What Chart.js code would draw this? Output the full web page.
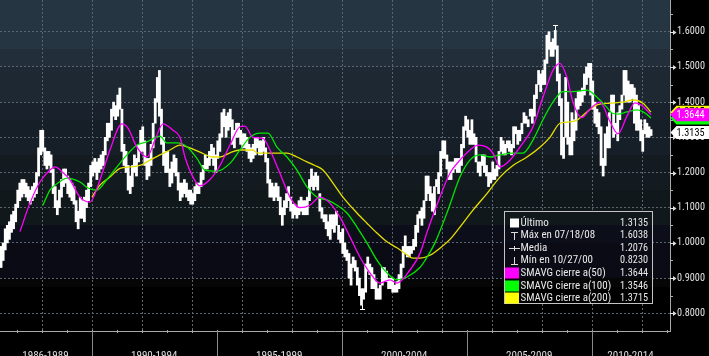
<!DOCTYPE html>
<html><head><meta charset="utf-8">
<script src="https://cdn.jsdelivr.net/npm/chart.js@4.4.0/dist/chart.umd.min.js"></script>
<style>html,body{margin:0;padding:0;background:#000;overflow:hidden}</style>
</head><body>
<canvas id="c" width="709" height="356"></canvas>
<script>
// ---------- DATA ----------
// Monthly bars of "Último" (low / high), first bar = May 1986, one per month up to May 2012
const firstMonth = 1986 + 4.5 / 12;
const monthLow = [
 0.93,0.95,0.98,1.00,1.01,1.03,1.04,1.06,
 1.10,1.12,1.13,1.14,1.13,1.12,1.11,1.12,1.13,1.14,1.19,1.25,
 1.26,1.22,1.21,1.22,1.20,1.14,1.10,1.08,1.10,1.13,1.16,1.17,
 1.14,1.13,1.12,1.11,1.06,1.04,1.07,1.07,1.06,1.10,1.12,1.16,
 1.19,1.20,1.18,1.20,1.21,1.22,1.25,1.29,1.30,1.32,1.36,1.35,
 1.36,1.38,1.26,1.22,1.20,1.15,1.14,1.16,1.20,1.19,1.23,1.26,
 1.26,1.22,1.18,1.19,1.22,1.27,1.34,1.40,1.36,1.28,1.22,1.20,
 1.20,1.16,1.17,1.20,1.19,1.15,1.12,1.13,1.14,1.13,1.12,1.11,
 1.11,1.12,1.14,1.14,1.16,1.18,1.21,1.21,1.22,1.24,1.22,1.20,
 1.24,1.26,1.30,1.33,1.30,1.32,1.33,1.28,1.27,1.30,1.30,1.28,
 1.27,1.27,1.26,1.24,1.23,1.24,1.25,1.27,1.25,1.25,1.26,1.23,
 1.17,1.13,1.13,1.12,1.13,1.12,1.08,1.05,1.08,1.10,1.12,1.09,
 1.07,1.08,1.07,1.08,1.09,1.08,1.08,1.08,1.12,1.16,1.15,1.16,
 1.15,1.09,1.07,1.06,1.04,1.02,1.01,1.04,1.03,1.05,1.01,1.00,
 0.97,0.96,0.95,0.90,0.88,0.93,0.92,0.88,0.85,0.823,0.84,0.86,
 0.92,0.91,0.87,0.87,0.84,0.84,0.84,0.88,0.89,0.89,0.87,0.87,
 0.86,0.86,0.86,0.87,0.90,0.93,0.97,0.96,0.96,0.97,0.98,0.99,
 1.03,1.07,1.05,1.07,1.12,1.14,1.12,1.09,1.08,1.16,1.14,1.19,
 1.24,1.24,1.21,1.18,1.18,1.20,1.21,1.20,1.20,1.22,1.27,1.32,
 1.30,1.28,1.28,1.28,1.23,1.20,1.19,1.22,1.20,1.19,1.16,1.17,
 1.18,1.18,1.19,1.21,1.26,1.25,1.25,1.27,1.26,1.25,1.27,1.31,
 1.28,1.29,1.31,1.34,1.34,1.33,1.36,1.34,1.36,1.41,1.45,1.43,
 1.45,1.45,1.51,1.55,1.53,1.53,1.55,1.46,1.39,1.25,1.24,1.30,
 1.28,1.25,1.25,1.29,1.32,1.38,1.39,1.40,1.42,1.45,1.47,1.42,
 1.38,1.34,1.33,1.31,1.22,1.19,1.22,1.27,1.27,1.37,1.30,1.31,
 1.29,1.35,1.38,1.42,1.40,1.40,1.40,1.41,1.34,1.32,1.32,1.29,
 1.26,1.31,1.30,1.30,1.305
];
const monthHigh = [
 0.99,1.00,1.04,1.05,1.06,1.08,1.09,1.11,
 1.15,1.17,1.18,1.18,1.17,1.16,1.15,1.16,1.17,1.20,1.27,1.32,
 1.32,1.27,1.26,1.26,1.25,1.21,1.16,1.12,1.15,1.18,1.21,1.21,
 1.19,1.18,1.17,1.16,1.12,1.09,1.13,1.12,1.13,1.15,1.17,1.22,
 1.23,1.24,1.23,1.24,1.25,1.26,1.30,1.34,1.34,1.38,1.40,1.39,
 1.42,1.44,1.38,1.28,1.26,1.22,1.19,1.22,1.25,1.24,1.28,1.32,
 1.33,1.29,1.24,1.24,1.28,1.34,1.41,1.47,1.49,1.38,1.30,1.26,
 1.26,1.21,1.23,1.25,1.24,1.20,1.17,1.17,1.18,1.17,1.15,1.15,
 1.14,1.16,1.17,1.17,1.20,1.22,1.25,1.24,1.26,1.28,1.27,1.25,
 1.29,1.31,1.37,1.38,1.36,1.37,1.38,1.35,1.32,1.34,1.34,1.32,
 1.31,1.31,1.30,1.28,1.27,1.28,1.30,1.30,1.29,1.29,1.30,1.27,
 1.24,1.18,1.17,1.16,1.17,1.16,1.13,1.10,1.12,1.14,1.16,1.13,
 1.11,1.11,1.10,1.12,1.13,1.12,1.12,1.13,1.18,1.21,1.19,1.20,
 1.19,1.14,1.10,1.08,1.08,1.06,1.08,1.08,1.08,1.09,1.05,1.03,
 1.04,1.00,0.98,0.97,0.94,0.96,0.95,0.93,0.90,0.87,0.87,0.94,
 0.96,0.94,0.93,0.91,0.89,0.87,0.88,0.93,0.93,0.92,0.90,0.90,
 0.90,0.88,0.89,0.91,0.94,0.99,1.02,0.99,0.99,0.99,1.01,1.05,
 1.08,1.09,1.10,1.12,1.19,1.19,1.16,1.14,1.16,1.18,1.20,1.26,
 1.29,1.29,1.25,1.23,1.23,1.23,1.24,1.24,1.24,1.28,1.33,1.36,
 1.35,1.32,1.35,1.31,1.30,1.23,1.23,1.25,1.25,1.22,1.20,1.20,
 1.23,1.21,1.22,1.26,1.30,1.29,1.28,1.29,1.29,1.28,1.33,1.33,
 1.32,1.32,1.34,1.37,1.36,1.35,1.38,1.38,1.42,1.45,1.49,1.48,
 1.49,1.52,1.59,1.60,1.57,1.58,1.6038,1.56,1.48,1.41,1.30,1.47,
 1.40,1.30,1.37,1.35,1.41,1.43,1.43,1.44,1.48,1.50,1.51,1.51,
 1.46,1.40,1.38,1.37,1.33,1.24,1.31,1.33,1.37,1.42,1.42,1.34,
 1.37,1.39,1.42,1.49,1.49,1.46,1.45,1.45,1.44,1.42,1.39,1.35,
 1.32,1.35,1.34,1.33,1.322
];
// Moving averages: [decimal year, value]
const ma50 = [
 [1987.13,1.032],[1987.53,1.113],[1987.93,1.173],[1988.33,1.207],[1988.53,1.216],[1988.85,1.200],
 [1989.13,1.179],[1989.53,1.130],[1989.93,1.116],[1990.33,1.179],[1990.73,1.264],[1991.21,1.338],
 [1991.45,1.326],[1991.81,1.272],[1992.21,1.244],[1992.53,1.292],[1992.85,1.338],[1993.25,1.320],
 [1993.53,1.300],[1993.73,1.244],[1994.05,1.187],[1994.33,1.162],[1994.73,1.180],[1995.13,1.220],
 [1995.53,1.278],[1995.93,1.330],[1996.13,1.332],[1996.45,1.300],[1996.85,1.297],[1997.13,1.264],
 [1997.53,1.198],[1997.93,1.130],[1998.33,1.100],[1998.73,1.107],[1999.13,1.130],[1999.53,1.113],
 [1999.93,1.073],[2000.33,1.017],[2000.73,0.960],[2001.13,0.915],[2001.53,0.886],[2001.93,0.895],
 [2002.21,0.886],[2002.73,0.923],[2003.13,0.970],[2003.41,1.030],[2003.73,1.093],[2004.33,1.198],
 [2004.73,1.235],[2005.13,1.264],[2005.45,1.278],[2005.81,1.272],[2006.05,1.255],[2006.33,1.216],
 [2006.73,1.235],[2007.13,1.272],[2007.65,1.330],[2008.05,1.414],[2008.45,1.490],[2008.73,1.510],
 [2009.01,1.470],[2009.25,1.400],[2009.61,1.356],[2009.93,1.380],[2010.33,1.400],[2010.73,1.345],
 [2011.05,1.310],[2011.41,1.360],[2011.73,1.398],[2012.01,1.390],[2012.37,1.3644]
];
const ma100 = [
 [1988.05,1.107],[1988.33,1.150],[1988.65,1.170],[1989.01,1.184],[1989.53,1.173],[1989.85,1.156],
 [1990.21,1.150],[1990.61,1.180],[1991.01,1.216],[1991.41,1.250],[1991.81,1.278],[1992.21,1.287],
 [1992.73,1.303],[1993.01,1.284],[1993.41,1.284],[1993.81,1.273],[1994.21,1.240],[1994.53,1.207],
 [1995.01,1.204],[1995.53,1.226],[1995.93,1.264],[1996.33,1.300],[1996.73,1.312],[1997.05,1.312],
 [1997.41,1.272],[1997.81,1.244],[1998.21,1.207],[1998.61,1.159],[1999.01,1.130],[1999.41,1.122],
 [1999.81,1.107],[2000.21,1.085],[2000.61,1.045],[2001.01,1.000],[2001.41,0.951],[2001.81,0.915],
 [2002.21,0.895],[2002.61,0.903],[2003.13,0.930],[2003.33,0.950],[2003.73,1.000],[2004.25,1.093],
 [2004.73,1.187],[2005.13,1.235],[2005.53,1.250],[2005.93,1.244],[2006.33,1.250],[2006.85,1.255],
 [2007.25,1.255],[2007.65,1.292],[2008.05,1.350],[2008.45,1.400],[2008.85,1.430],[2009.25,1.430],
 [2009.81,1.434],[2010.21,1.414],[2010.61,1.385],[2010.81,1.369],[2011.05,1.366],[2011.41,1.372],
 [2011.81,1.378],[2012.13,1.369],[2012.37,1.3546]
];
const ma200 = [
 [1990.01,1.130],[1990.33,1.164],[1990.73,1.187],[1991.13,1.212],[1991.53,1.216],[1991.93,1.220],
 [1992.33,1.235],[1992.73,1.250],[1993.13,1.264],[1993.53,1.278],[1993.93,1.270],[1994.33,1.258],
 [1994.85,1.244],[1995.13,1.244],[1995.53,1.256],[1995.93,1.264],[1996.45,1.264],[1996.61,1.256],
 [1997.25,1.255],[1997.81,1.255],[1998.21,1.244],[1998.61,1.230],[1998.93,1.220],[1999.25,1.207],
 [1999.65,1.170],[2000.05,1.130],[2000.61,1.085],[2001.01,1.056],[2001.41,1.028],[2001.81,1.003],
 [2002.21,0.986],[2002.61,0.966],[2002.85,0.957],[2003.13,0.957],[2003.53,0.965],[2003.93,0.985],
 [2004.33,1.010],[2004.73,1.045],[2005.25,1.093],[2005.81,1.140],[2006.33,1.187],[2006.85,1.220],
 [2007.41,1.244],[2007.93,1.272],[2008.33,1.300],[2008.73,1.340],[2009.01,1.343],[2009.41,1.349],
 [2009.81,1.372],[2010.21,1.392],[2010.73,1.397],[2011.25,1.400],[2011.65,1.406],[2012.05,1.397],
 [2012.37,1.3715]
];
const yTicks = [0.8,0.9,1.0,1.1,1.2,1.3,1.4,1.5,1.6];
const yMinorTicks = [0.75,0.85,0.95,1.05,1.15,1.25,1.35,1.45,1.55,1.65];
const periodLabels = ['1986-1989','1990-1994','1995-1999','2000-2004','2005-2009','2010-2014'];
const periodCenters = [1988.15,1992.5,1997.5,2002.5,2007.5,2011.55];
const periodBounds = [1990,1995,2000,2005,2010];
const yearTicks = [1987,1988,1989,1990,1991,1992,1993,1994,1995,1996,1997,1998,1999,2000,2001,2002,2003,2004,2005,2006,2007,2008,2009,2010,2011,2012,2013];
const gridYears = [1988,1990,1992,1994,1996,1998,2000,2002,2004,2006,2008,2010,2012];
const legendNames = ['Último','Máx en 07/18/08','Media','Mín en 10/27/00','SMAVG cierre a(50)','SMAVG cierre a(100)','SMAVG cierre a(200)'];
const legendValues = ['1.3135','1.6038','1.2076','0.8230','1.3644','1.3546','1.3715'];
const maxPoint = [2008.545, 1.6038];
const minPoint = [2000.82, 0.8230];
// last-value flags on the price axis (drawn in this order)
const flagValues = [1.3715, 1.3546, 1.3644, 1.3135];
const flagColors = ['#ffff00', '#00ff00', '#ff00ff', '#ffffff'];
const flagText = ['#000000', '#000000', '#ffffff', '#000000'];

// ---------- FONTS ----------
const mctx = document.createElement('canvas').getContext('2d');
function pickFont() {
  const test = 'SMAVG cierre a(200) 1.3715 0123456789';
  const cands = ['Liberation Sans Narrow', 'Arial Narrow', 'Noto Sans ExtraCondensed', 'Noto Sans Condensed',
                 'Roboto Condensed', 'Open Sans Condensed', 'DejaVu Sans Condensed'];
  for (const f of cands) {
    for (const fb of ['monospace', 'serif']) {
      mctx.font = '20px ' + fb; const w0 = mctx.measureText(test).width;
      mctx.font = '20px "' + f + '", ' + fb; const w1 = mctx.measureText(test).width;
      if (Math.abs(w1 - w0) > 0.5) return f;
    }
  }
  return 'DejaVu Sans';
}
const FONT = '"' + pickFont() + '", "DejaVu Sans Condensed", sans-serif';
function widthAt(text, size) { mctx.font = size + 'px ' + FONT; return mctx.measureText(text).width; }
const yLabelSize = Math.min(11, 11 * 28 / widthAt('1.6000', 11));
const xLabelSize = Math.min(12.5, 12 * 46.5 / widthAt('1986-1989', 12));
const sxName = Math.min(1, 92 / widthAt('SMAVG cierre a(200)', 11));
const sxVal = Math.min(1, 28 / widthAt('1.3715', 11));

// ---------- STYLE ----------
const GRID = '#5b6570';
const bandEdges = [1.6901,1.55,1.5,1.4,1.35,1.25,1.15,1.05,1.0,0.9,0.875,0.7497];
const bandColors = ['#253541','#222f3a','#1d2832','#19222c','#161e27','#131b20','#11181b','#0c0f19','#0a0b14','#060606','#000000'];

const bars = monthLow.map((lo, i) => ({ x: firstMonth + i / 12, y: [lo, monthHigh[i]] }));
const pts = arr => arr.map(p => ({ x: p[0], y: p[1] }));

function drawBands(ctx, a, ys) {
  for (let i = 0; i < bandColors.length; i++) {
    const t = Math.max(Math.round(ys.getPixelForValue(bandEdges[i])), a.top);
    const b = Math.min(Math.round(ys.getPixelForValue(bandEdges[i + 1])), a.bottom);
    ctx.fillStyle = bandColors[i];
    ctx.fillRect(a.left, t, a.right - a.left, b - t);
  }
}
function squeezeText(ctx, text, x, y, sx, align) {
  ctx.save(); ctx.translate(x, y); ctx.scale(sx, 1); ctx.textAlign = align; ctx.fillText(text, 0, 0); ctx.restore();
}

const decor = {
  id: 'decor',
  beforeDraw(chart) {
    const { ctx, chartArea: a, scales: { y } } = chart;
    ctx.save();
    ctx.fillStyle = '#000';
    ctx.fillRect(0, 0, chart.width, chart.height);
    drawBands(ctx, a, y);
    ctx.restore();
  },
  beforeDatasetsDraw(chart) {
    const { ctx, chartArea: a, scales: { x } } = chart;
    ctx.save();
    ctx.strokeStyle = GRID; ctx.lineWidth = 1; ctx.setLineDash([2, 2]);
    gridYears.forEach(yr => {
      const px = Math.round(x.getPixelForValue(yr)) + 0.5;
      ctx.beginPath(); ctx.moveTo(px, a.top); ctx.lineTo(px, a.bottom); ctx.stroke();
    });
    ctx.restore();
  },
  afterDraw(chart) {
    const { ctx, chartArea: a, scales: { x, y } } = chart;
    ctx.save();
    // x axis: year ticks and period separators
    ctx.strokeStyle = '#a8a8a8'; ctx.lineWidth = 1;
    yearTicks.forEach(yr => {
      const px = Math.round(x.getPixelForValue(yr)) + 0.5;
      ctx.beginPath(); ctx.moveTo(px, a.bottom - 1); ctx.lineTo(px, a.bottom + 2); ctx.stroke();
    });
    ctx.strokeStyle = '#8a8a8a';
    periodBounds.forEach(yr => {
      const px = Math.round(x.getPixelForValue(yr)) + 0.5;
      ctx.beginPath(); ctx.moveTo(px, a.bottom); ctx.lineTo(px, chart.height); ctx.stroke();
    });
    // y axis: minor ticks and label pointers
    ctx.strokeStyle = '#b0b0b0';
    yMinorTicks.forEach(v => {
      const py = Math.round(y.getPixelForValue(v)) + 0.5;
      if (py < a.top || py > a.bottom) return;
      ctx.beginPath(); ctx.moveTo(a.right, py); ctx.lineTo(a.right + 3, py); ctx.stroke();
    });
    ctx.fillStyle = '#e0e0e0'; ctx.strokeStyle = '#e0e0e0';
    yTicks.forEach(v => {
      const py = Math.round(y.getPixelForValue(v)) + 0.5;
      ctx.beginPath(); ctx.moveTo(a.right, py); ctx.lineTo(a.right + 4, py); ctx.stroke();
      ctx.beginPath(); ctx.moveTo(a.right + 3, py - 2.5); ctx.lineTo(a.right + 6.5, py); ctx.lineTo(a.right + 3, py + 2.5); ctx.closePath(); ctx.fill();
    });
    // max / min markers
    ctx.strokeStyle = '#ffffff';
    const mxX = Math.round(x.getPixelForValue(maxPoint[0])) + 0.5, mxY = Math.round(y.getPixelForValue(maxPoint[1]));
    ctx.beginPath(); ctx.moveTo(mxX - 2.5, mxY - 4.5); ctx.lineTo(mxX + 2.5, mxY - 4.5); ctx.moveTo(mxX, mxY - 4.5); ctx.lineTo(mxX, mxY); ctx.stroke();
    const mnX = Math.round(x.getPixelForValue(minPoint[0])) + 0.5, mnY = Math.round(y.getPixelForValue(minPoint[1]));
    ctx.beginPath(); ctx.moveTo(mnX, mnY); ctx.lineTo(mnX, mnY + 4.5); ctx.moveTo(mnX - 2.5, mnY + 4.5); ctx.lineTo(mnX + 2.5, mnY + 4.5); ctx.stroke();

    // legend box
    const L = 504.5, T = 211.5, R = 652.5, B = 303.5;
    ctx.save();
    ctx.beginPath(); ctx.rect(L, T, R - L, B - T); ctx.clip();
    drawBands(ctx, a, y);
    ctx.restore();
    ctx.strokeStyle = '#c4c4c4'; ctx.lineWidth = 1;
    ctx.strokeRect(L, T, R - L, B - T);
    ctx.font = '11px ' + FONT; ctx.textBaseline = 'middle';
    const iconColors = ['#ffffff', '#dddddd', '#dddddd', '#dddddd', '#ff00ff', '#00ff00', '#ffff00'];
    legendNames.forEach((name, i) => {
      const cy = 223 + i * 12.55;
      const ry = Math.round(cy);
      ctx.fillStyle = iconColors[i]; ctx.strokeStyle = iconColors[i];
      if (i === 0) ctx.fillRect(510, ry - 4.5, 9, 9);
      else if (i === 1) { ctx.beginPath(); ctx.moveTo(511, ry - 3.5); ctx.lineTo(518, ry - 3.5); ctx.moveTo(514.5, ry - 3.5); ctx.lineTo(514.5, ry + 4); ctx.stroke(); }
      else if (i === 2) { ctx.beginPath(); ctx.moveTo(509, ry + 0.5); ctx.lineTo(520, ry + 0.5); ctx.moveTo(514.5, ry - 2); ctx.lineTo(514.5, ry + 3); ctx.stroke(); }
      else if (i === 3) { ctx.beginPath(); ctx.moveTo(514.5, ry - 4); ctx.lineTo(514.5, ry + 3.5); ctx.moveTo(511, ry + 3.5); ctx.lineTo(518, ry + 3.5); ctx.stroke(); }
      else ctx.fillRect(505, ry - 5.5, 14, 11);
      ctx.fillStyle = '#e8e8e8';
      squeezeText(ctx, name, 520.5, cy, sxName, 'left');
      squeezeText(ctx, legendValues[i], 648, cy, sxVal, 'right');
    });

    // last value flags
    ctx.font = '11px ' + FONT; ctx.textBaseline = 'middle';
    flagValues.forEach((v, i) => {
      const py = y.getPixelForValue(v);
      const x0 = a.right + 0.5;
      ctx.beginPath();
      ctx.moveTo(x0, py); ctx.lineTo(x0 + 6, py - 6.5); ctx.lineTo(chart.width, py - 6.5);
      ctx.lineTo(chart.width, py + 6.5); ctx.lineTo(x0 + 6, py + 6.5); ctx.closePath();
      ctx.fillStyle = flagColors[i]; ctx.fill();
      ctx.fillStyle = flagText[i];
      squeezeText(ctx, v.toFixed(4), a.right + 6.5, py + 0.5, sxVal, 'left');
    });
    ctx.restore();
  }
};

new Chart(document.getElementById('c'), {
  type: 'bar',
  data: {
    datasets: [
      { type: 'line', label: 'SMAVG cierre a(50)', data: pts(ma50), borderColor: '#ff00ff', borderWidth: 1.3, pointRadius: 0, cubicInterpolationMode: 'monotone', order: 1 },
      { type: 'line', label: 'SMAVG cierre a(100)', data: pts(ma100), borderColor: '#00e600', borderWidth: 1.3, pointRadius: 0, cubicInterpolationMode: 'monotone', order: 2 },
      { type: 'line', label: 'SMAVG cierre a(200)', data: pts(ma200), borderColor: '#e6e000', borderWidth: 1.3, pointRadius: 0, cubicInterpolationMode: 'monotone', order: 3 },
      { type: 'bar', label: 'Último', data: bars, backgroundColor: '#ffffff', barThickness: 2.1, order: 4 }
    ]
  },
  options: {
    responsive: false, devicePixelRatio: 1, animation: false,
    layout: { padding: 0, autoPadding: false },
    plugins: { legend: { display: false }, tooltip: { enabled: false } },
    scales: {
      x: {
        type: 'linear', min: 1986.332, max: 2013.132, offset: false,
        grid: { display: false },
        border: { display: true, color: '#a8a8a8', width: 1 },
        afterBuildTicks: s => { s.ticks = periodCenters.map(v => ({ value: v })); },
        ticks: { autoSkip: false, maxRotation: 0, color: '#dcdcdc', font: { family: FONT, size: xLabelSize },
                 padding: 17 - 0.6 * xLabelSize, callback: (v, i) => periodLabels[i] },
        afterFit: s => { s.height = 25; s.paddingLeft = 0; s.paddingRight = 0; }
      },
      y: {
        position: 'right', min: 0.7497, max: 1.6901,
        afterBuildTicks: s => { s.ticks = yTicks.map(v => ({ value: v })); },
        ticks: { color: '#e0e0e0', font: { family: FONT, size: yLabelSize }, padding: 7, callback: v => Number(v).toFixed(4) },
        grid: { color: GRID, lineWidth: 1, drawTicks: false },
        border: { display: true, color: '#a8a8a8', width: 1, dash: [2, 2] },
        afterFit: s => { s.width = 39; s.paddingTop = 0; s.paddingBottom = 0; }
      }
    }
  },
  plugins: [decor]
});
</script>
</body></html>
